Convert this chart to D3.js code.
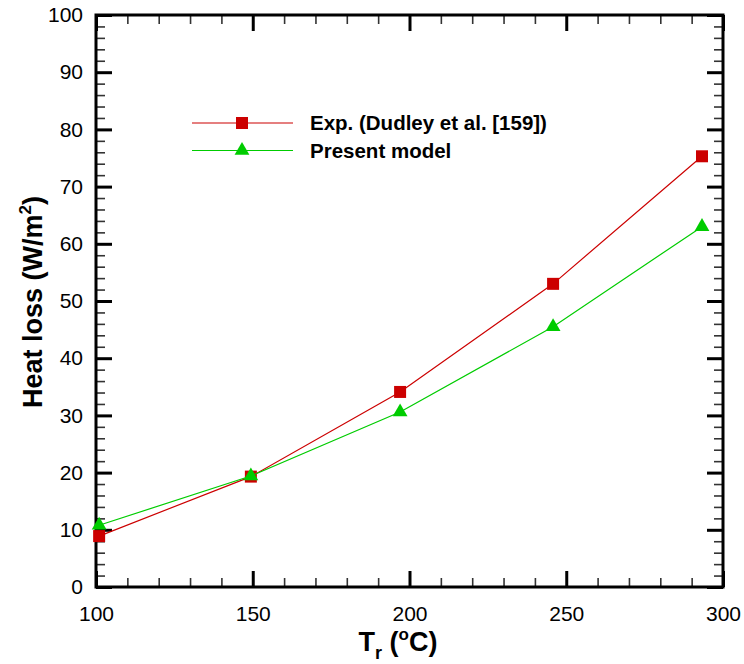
<!DOCTYPE html>
<html>
<head>
<meta charset="utf-8">
<script src="https://cdn.jsdelivr.net/npm/d3@7"></script>
<style>
  body { margin: 0; background: #fff; }
  text { font-family: "Liberation Sans", Arial, sans-serif; }
</style>
</head>
<body>
<div id="chart"></div>
<script>
// values
const tempExp = [101, 149.4, 197, 245.8, 293.3];
const lossExp = [8.9, 19.3, 34.1, 53.0, 75.3];
const tempModel = [101, 149.4, 197, 245.8, 293.3];
const lossModel = [10.8, 19.4, 30.6, 45.5, 63.0];
const xTicks = [100, 150, 200, 250, 300];
const yTicks = [0, 10, 20, 30, 40, 50, 60, 70, 80, 90, 100];
const seriesNames = ["Exp. (Dudley et al. [159])", "Present model"];

const W = 744, H = 664;
const margin = { top: 15, right: 21, bottom: 77, left: 96 };
const width = W - margin.left - margin.right;
const height = H - margin.top - margin.bottom;

const svg = d3.select("#chart").append("svg")
  .attr("width", W)
  .attr("height", H);

const g = svg.append("g").attr("transform", `translate(${margin.left},${margin.top})`);

const x = d3.scaleLinear().domain([100, 300]).range([0, width]);
const y = d3.scaleLinear().domain([0, 100]).range([height, 0]);

const xMinor = d3.range(100, 301, 10).filter(v => v % 50 !== 0);
const yMinor = d3.range(0, 101, 2).filter(v => v % 10 !== 0);

// ticks on all four sides, pointing inward
function drawTicks(sel, axis, size, sw, color) {
  sel.call(axis.tickSize(size).tickFormat(""))
    .call(a => a.select(".domain").remove())
    .selectAll("line").attr("stroke", color).attr("stroke-width", sw);
}
drawTicks(g.append("g").attr("transform", `translate(0,${height})`), d3.axisTop(x).tickValues(xMinor), 9, 1.6, "#333");
drawTicks(g.append("g"), d3.axisBottom(x).tickValues(xMinor), 9, 1.6, "#333");
drawTicks(g.append("g"), d3.axisRight(y).tickValues(yMinor), 9, 1.6, "#333");
drawTicks(g.append("g").attr("transform", `translate(${width},0)`), d3.axisLeft(y).tickValues(yMinor), 9, 1.6, "#333");
drawTicks(g.append("g").attr("transform", `translate(0,${height})`), d3.axisTop(x).tickValues(xTicks), 16, 3, "#000");
drawTicks(g.append("g"), d3.axisBottom(x).tickValues(xTicks), 16, 3, "#000");
drawTicks(g.append("g"), d3.axisRight(y).tickValues(yTicks), 16, 3, "#000");
drawTicks(g.append("g").attr("transform", `translate(${width},0)`), d3.axisLeft(y).tickValues(yTicks), 16, 3, "#000");

// tick labels
g.append("g").attr("transform", `translate(0,${height})`)
  .call(d3.axisBottom(x).tickValues(xTicks).tickSize(0).tickPadding(19))
  .call(a => a.select(".domain").remove())
  .selectAll("text").attr("font-size", 21).attr("fill", "#000")
  .style("font-family", "'Liberation Sans', Arial, sans-serif");
g.append("g")
  .call(d3.axisLeft(y).tickValues(yTicks).tickSize(0).tickPadding(13))
  .call(a => a.select(".domain").remove())
  .selectAll("text").attr("font-size", 21).attr("fill", "#000")
  .style("font-family", "'Liberation Sans', Arial, sans-serif");

// frame
g.append("rect")
  .attr("width", width).attr("height", height)
  .attr("fill", "none").attr("stroke", "#000").attr("stroke-width", 3);

const series = [
  { name: seriesNames[0], xs: tempExp, ys: lossExp, color: "#cc0000", sym: d3.symbolSquare, size: 144 },
  { name: seriesNames[1], xs: tempModel, ys: lossModel, color: "#00cc00", sym: d3.symbolTriangle, size: 95 }
];

const line = d3.line().x(d => x(d[0])).y(d => y(d[1]));

series.forEach(s => {
  const pts = s.xs.map((v, i) => [v, s.ys[i]]);
  g.append("path")
    .attr("d", line(pts))
    .attr("fill", "none")
    .attr("stroke", s.color)
    .attr("stroke-width", 1.2);
  g.selectAll(null).data(pts).enter().append("path")
    .attr("transform", d => `translate(${x(d[0])},${y(d[1])})`)
    .attr("d", d3.symbol().type(s.sym).size(s.size))
    .attr("fill", s.color);
});

// legend
const legend = svg.append("g").attr("transform", "translate(192,123)");
series.forEach((s, i) => {
  const row = legend.append("g").attr("transform", `translate(0,${i * 27.5})`);
  row.append("line").attr("x1", 0).attr("x2", 101)
    .attr("stroke", s.color).attr("stroke-width", 1.2);
  row.append("path").attr("transform", "translate(50,0)")
    .attr("d", d3.symbol().type(s.sym).size(s.size)).attr("fill", s.color);
  row.append("text").attr("x", 118).attr("y", 7)
    .attr("font-size", 20.5).attr("font-weight", "bold").text(s.name);
});

// axis titles
const xt = svg.append("text")
  .attr("x", 398).attr("y", 651)
  .attr("text-anchor", "middle")
  .attr("font-size", 27).attr("font-weight", "bold");
xt.append("tspan").text("T");
xt.append("tspan").attr("font-size", 18).attr("dy", 8).text("r");
xt.append("tspan").attr("dy", -8).text(" (");
xt.append("tspan").attr("font-size", 17).attr("dy", -11).text("o");
xt.append("tspan").attr("dy", 11).text("C)");

const yt = svg.append("text")
  .attr("transform", "translate(42,302) rotate(-90)")
  .attr("text-anchor", "middle")
  .attr("font-size", 27).attr("font-weight", "bold");
yt.append("tspan").text("Heat loss (W/m");
yt.append("tspan").attr("font-size", 17).attr("dy", -11).text("2");
yt.append("tspan").attr("dy", 11).text(")");
</script>
</body>
</html>
